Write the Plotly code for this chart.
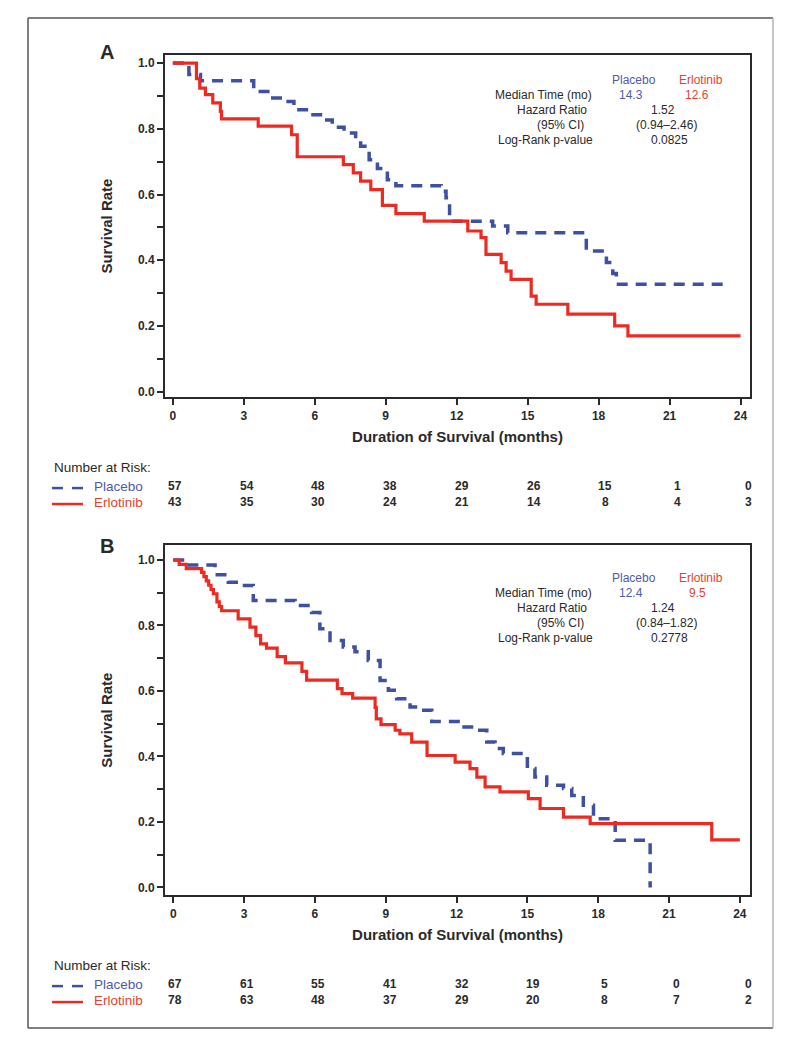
import plotly.graph_objects as go

# ---------------- data ----------------
# Panel A - Kaplan-Meier steps (months, survival rate)
a_placebo_t = [0, 0.68, 1.17, 3.42, 4.13, 4.77, 5.12, 5.83, 6.32, 6.74, 7.24, 7.73, 7.94, 8.30, 8.65,
               9.07, 9.43, 11.34, 11.55, 11.70, 13.52, 14.16, 17.48, 18.33, 18.60, 18.75, 23.48]
a_placebo_s = [1.0, 0.965, 0.946, 0.914, 0.894, 0.883, 0.858, 0.843, 0.827, 0.805, 0.787, 0.767, 0.747, 0.706, 0.679,
               0.645, 0.627, 0.610, 0.590, 0.519, 0.504, 0.484, 0.428, 0.393, 0.360, 0.327, 0.327]
a_erlotinib_t = [0, 1.0, 1.14, 1.38, 1.69, 2.01, 2.06, 3.61, 5.02, 5.26, 7.21, 7.63, 7.94, 8.37, 8.86, 9.43,
                 10.63, 12.47, 13.03, 13.24, 13.88, 14.09, 14.30, 15.15, 15.36, 16.70, 18.68, 19.24, 24.0]
a_erlotinib_s = [1.0, 0.953, 0.924, 0.904, 0.879, 0.853, 0.830, 0.808, 0.782, 0.715, 0.691, 0.666, 0.641, 0.615, 0.567, 0.542,
                 0.519, 0.489, 0.469, 0.418, 0.393, 0.367, 0.342, 0.291, 0.266, 0.236, 0.200, 0.170, 0.170]

# Panel B
b_placebo_t = [0, 0.55, 1.77, 2.33, 2.83, 3.39, 5.16, 5.86, 6.21, 6.64, 7.20, 7.70, 8.26, 8.76, 9.11, 9.46,
               10.03, 10.52, 10.95, 12.15, 12.85, 13.28, 13.63, 13.98, 15.0, 15.32, 15.82, 16.53, 16.88,
               17.37, 17.80, 18.72, 20.20]
b_placebo_s = [1.0, 0.985, 0.955, 0.932, 0.922, 0.876, 0.861, 0.840, 0.790, 0.754, 0.734, 0.720, 0.693, 0.632, 0.602, 0.576,
               0.551, 0.541, 0.507, 0.490, 0.480, 0.444, 0.424, 0.409, 0.363, 0.337, 0.312, 0.302, 0.281,
               0.251, 0.210, 0.144, 0.0]
b_erlotinib_t = [0, 0.25, 0.55, 1.2, 1.3, 1.4, 1.5, 1.6, 1.7, 1.85, 1.95, 2.05, 2.75, 3.25, 3.5, 3.7, 3.95, 4.4,
                 4.75, 5.45, 5.65, 6.95, 7.15, 7.6, 8.55, 8.6, 8.8, 9.4, 9.6, 10.1, 10.75, 11.94, 12.57, 12.86,
                 13.21, 13.84, 15.04, 15.54, 16.53, 17.66, 22.81, 24.0]
b_erlotinib_s = [1.0, 0.987, 0.974, 0.962, 0.949, 0.936, 0.923, 0.91, 0.897, 0.872, 0.858, 0.845, 0.82, 0.795, 0.769, 0.744,
                 0.731, 0.705, 0.686, 0.660, 0.633, 0.607, 0.592, 0.578, 0.55, 0.515, 0.497, 0.48, 0.469, 0.444,
                 0.403, 0.383, 0.363, 0.337, 0.307, 0.292, 0.271, 0.241, 0.215, 0.195, 0.145, 0.145]

# Number at risk
risk_times = [0, 3, 6, 9, 12, 15, 18, 21, 24]
a_risk_placebo = [57, 54, 48, 38, 29, 26, 15, 1, 0]
a_risk_erlotinib = [43, 35, 30, 24, 21, 14, 8, 4, 3]
b_risk_placebo = [67, 61, 55, 41, 32, 19, 5, 0, 0]
b_risk_erlotinib = [78, 63, 48, 37, 29, 20, 8, 7, 2]

# Statistics
a_median = ["14.3", "12.6"]
a_hr, a_ci, a_p = "1.52", "(0.94\u20132.46)", "0.0825"
b_median = ["12.4", "9.5"]
b_hr, b_ci, b_p = "1.24", "(0.84\u20131.82)", "0.2778"

x_ticks = [0, 3, 6, 9, 12, 15, 18, 21, 24]
y_ticks = [0.0, 0.2, 0.4, 0.6, 0.8, 1.0]
y_tick_labels = ["0.0", "0.2", "0.4", "0.6", "0.8", "1.0"]
y_minor = [0.1, 0.3, 0.5, 0.7, 0.9]

# ---------------- style ----------------
# the page body has an 8px margin, so the figure is drawn 8px in from the window corner
OFF = 8
W, H = 771, 1034
BLUE = "#3d50a2"
RED = "#ec2a22"
BLUE_TXT = "#4f5aa8"
RED_TXT = "#e5422c"
AX = "#2a2a2a"
FONT = "Liberation Sans"


def px(x):
    return (x - OFF) / W


def py(y):
    return 1 - (y - OFF) / H


fig = go.Figure()

fig.add_trace(go.Scatter(x=a_placebo_t, y=a_placebo_s, mode="lines", line_shape="hv",
                         line=dict(color=BLUE, width=3.5, dash="11px,8px"), xaxis="x", yaxis="y", name="Placebo"))
fig.add_trace(go.Scatter(x=a_erlotinib_t, y=a_erlotinib_s, mode="lines", line_shape="hv",
                         line=dict(color=RED, width=3.2), xaxis="x", yaxis="y", name="Erlotinib"))
fig.add_trace(go.Scatter(x=b_placebo_t, y=b_placebo_s, mode="lines", line_shape="hv",
                         line=dict(color=BLUE, width=3.5, dash="11px,8px"), xaxis="x2", yaxis="y2", name="Placebo"))
fig.add_trace(go.Scatter(x=b_erlotinib_t, y=b_erlotinib_s, mode="lines", line_shape="hv",
                         line=dict(color=RED, width=3.2), xaxis="x2", yaxis="y2", name="Erlotinib"))

tickfont = dict(family=FONT, size=12, color=AX, weight="bold")
titlefont = dict(family=FONT, size=15, color=AX, weight="bold")


def xaxis(domain, anchor, rng):
    return dict(domain=domain, anchor=anchor, range=rng, tickvals=x_ticks, ticks="outside", ticklen=6,
                tickwidth=1.5, tickcolor=AX, showline=True, linecolor=AX, linewidth=2, mirror=True,
                showgrid=False, zeroline=False, tickfont=tickfont,
                title=dict(text="Duration of Survival (months)", font=titlefont, standoff=10))


def yaxis(domain, anchor, rng):
    return dict(domain=domain, anchor=anchor, range=rng, tickvals=y_ticks, ticktext=y_tick_labels,
                ticks="outside", ticklen=6, tickwidth=1.5, tickcolor=AX, showline=True, linecolor=AX,
                linewidth=2, mirror=True, showgrid=False, zeroline=False, tickfont=tickfont,
                minor=dict(tickvals=y_minor, ticks="outside", ticklen=6, tickwidth=1.5, tickcolor=AX),
                title=dict(text="Survival Rate", font=titlefont, standoff=22))


fig.update_layout(
    width=W, height=H, margin=dict(l=0, r=0, t=0, b=0),
    paper_bgcolor="white", plot_bgcolor="white", showlegend=False,
    font=dict(family=FONT, color=AX),
    xaxis=xaxis([px(165), px(750)], "y", [-0.33, 24.4]),
    yaxis=yaxis([py(398), py(55)], "x", [-0.017, 1.025]),
    xaxis2=xaxis([px(165), px(750)], "y2", [-0.35, 24.43]),
    yaxis2=yaxis([py(897), py(546)], "x2", [-0.024, 1.046]),
)

ann = []


def text(x, y, s, size=12, color=AX, anchor="center", bold=False, xref="paper", xshift=0):
    ann.append(dict(x=x if xref != "paper" else px(x), y=py(y), xref=xref, yref="paper", text=s,
                    showarrow=False, xanchor=anchor, yanchor="middle", xshift=xshift,
                    font=dict(family=FONT, size=size, color=color, weight="bold" if bold else "normal")))


# Panel letters
text(107, 52, "A", size=20, bold=True)
text(107, 547, "B", size=20, bold=True)

# Statistics boxes
for top, med, hr, ci, p in [(80, a_median, a_hr, a_ci, a_p), (579, b_median, b_hr, b_ci, b_p)]:
    text(634, top, "Placebo", color=BLUE_TXT)
    text(701, top, "Erlotinib", color=RED_TXT)
    text(594, top + 15, "Median Time (mo)", anchor="right")
    text(631, top + 15, med[0], color=BLUE_TXT)
    text(697, top + 15, med[1], color=RED_TXT)
    text(589, top + 30, "Hazard Ratio", anchor="right")
    text(663, top + 30, hr)
    text(586, top + 45, "(95% CI)", anchor="right")
    text(666, top + 45, ci)
    text(595, top + 60, "Log-Rank p-value", anchor="right")
    text(669, top + 60, p)

# Number at risk tables
for (y0, xref, rp, re) in [(468, "x", a_risk_placebo, a_risk_erlotinib),
                           (967, "x2", b_risk_placebo, b_risk_erlotinib)]:
    text(52, y0, "Number at Risk:", size=13.5, anchor="left")
    text(92, y0 + 19, "Placebo", size=13.5, color=BLUE_TXT, anchor="left")
    text(92, y0 + 35, "Erlotinib", size=13.5, color=RED_TXT, anchor="left")
    for t, vp, ve in zip(risk_times, rp, re):
        text(t, y0 + 19, str(vp), size=12, bold=True, xref=xref, xshift=2 + 0.26 * t)
        text(t, y0 + 35, str(ve), size=12, bold=True, xref=xref, xshift=2 + 0.26 * t)

fig.update_layout(annotations=ann)

shapes = []
# outer frame
for (x0, y0, x1, y1, c) in [(28, 18, 773, 18, "#555"), (28, 18, 28, 1030, "#555"),
                            (28, 1030, 773, 1030, "#555"), (773, 18, 773, 1030, "#b5b5b5")]:
    shapes.append(dict(type="line", xref="paper", yref="paper", x0=px(x0), y0=py(y0), x1=px(x1), y1=py(y1),
                       line=dict(color=c, width=1.5)))
# legend line samples for risk tables
for yrow in [489, 988]:
    for (a, b) in [(52, 63), (72, 83)]:
        shapes.append(dict(type="line", xref="paper", yref="paper", x0=px(a), x1=px(b), y0=py(yrow), y1=py(yrow),
                           line=dict(color=BLUE, width=2.5)))
    shapes.append(dict(type="line", xref="paper", yref="paper", x0=px(52), x1=px(83), y0=py(yrow + 16),
                       y1=py(yrow + 16), line=dict(color=RED, width=2.5)))
fig.update_layout(shapes=shapes)

fig.write_html("out.html")
